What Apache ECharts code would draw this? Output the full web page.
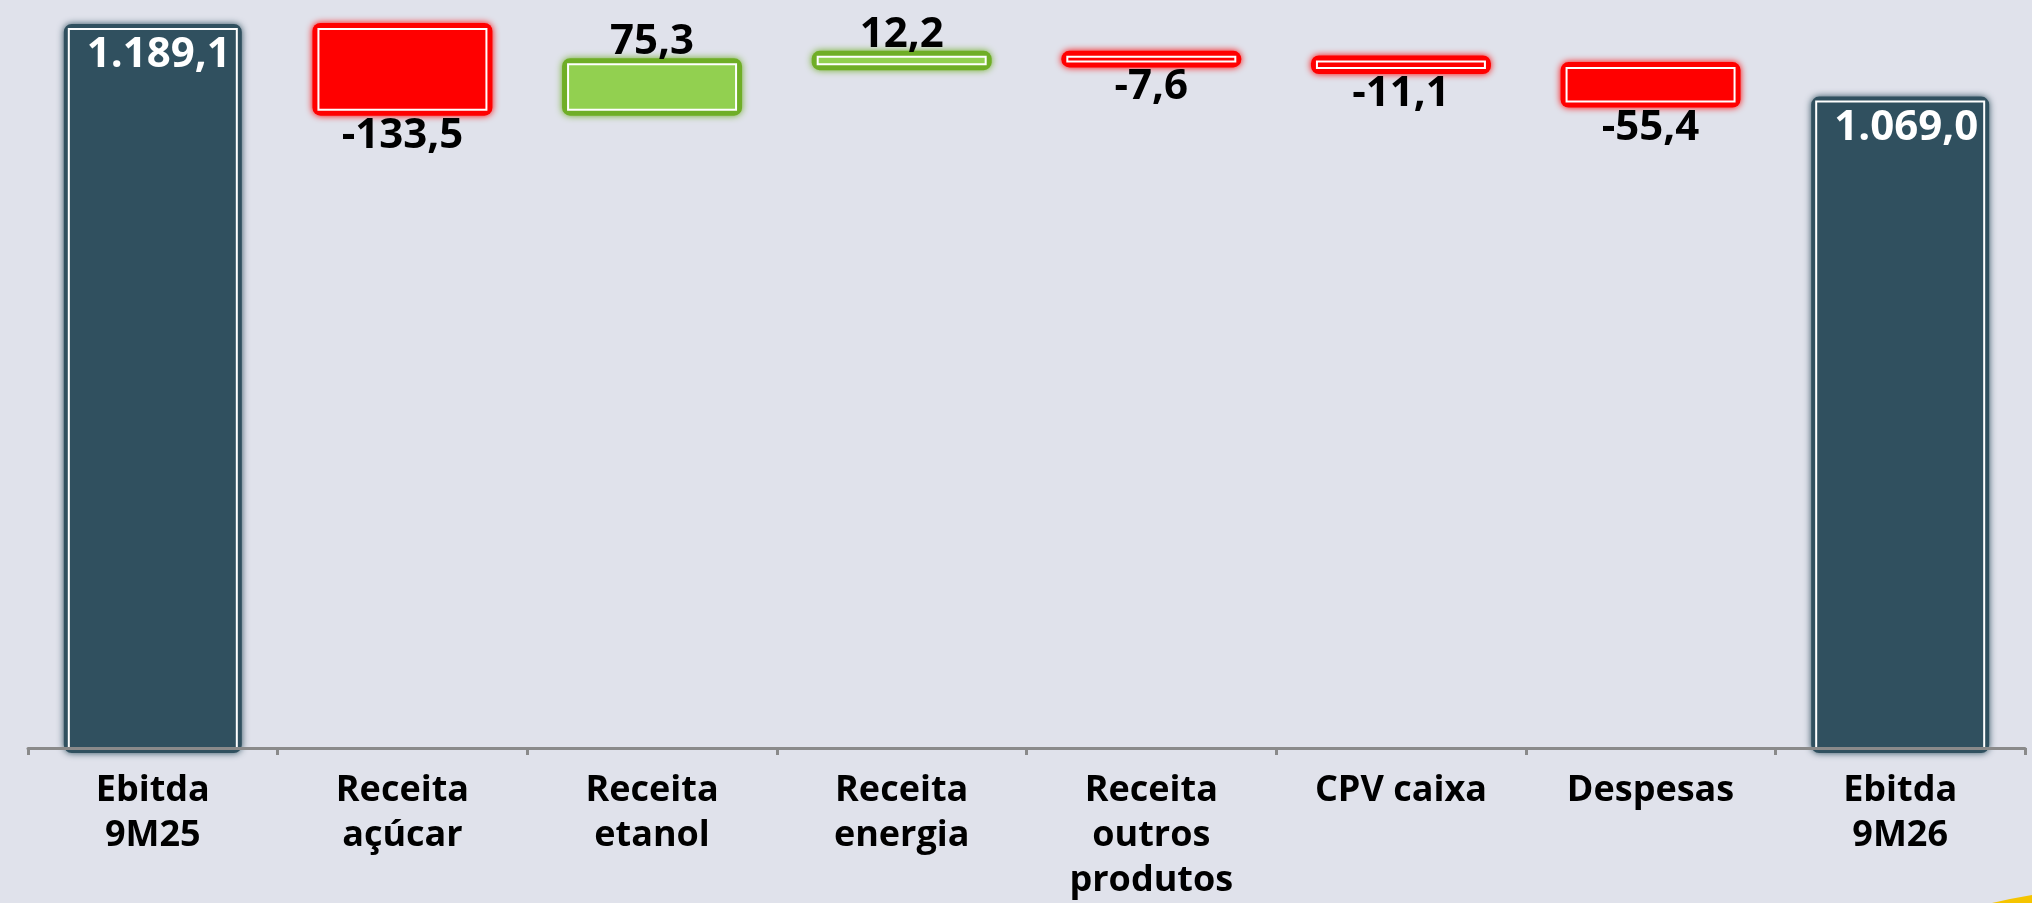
<!DOCTYPE html>
<html>
<head>
<meta charset="utf-8">
<script src="https://cdn.jsdelivr.net/npm/echarts@6/dist/echarts.min.js"></script>
<style>
  html, body { margin: 0; padding: 0; background: #e0e2eb; }
  #chart { width: 2032px; height: 903px; }
</style>
</head>
<body>
<div id="chart"></div>
<script>
const categories = [
  'Ebitda\n9M25',
  'Receita\naçúcar',
  'Receita\netanol',
  'Receita\nenergia',
  'Receita\noutros\nprodutos',
  'CPV caixa',
  'Despesas',
  'Ebitda\n9M26'
];
const values = [1189.1, -133.5, 75.3, 12.2, -7.6, -11.1, -55.4, 1069.0];
const isTotal = [true, false, false, false, false, false, false, true];

const COLORS = {
  total: { fill: '#30505f', glow: '#30505f', text: '#ffffff' },
  up: { fill: '#92d050', glow: '#6fae26', text: '#000000' },
  down: { fill: '#ff0000', glow: '#ff0000', text: '#000000' }
};

function formatBR(v) {
  const neg = v < 0;
  const parts = Math.abs(v).toFixed(1).split('.');
  const intPart = parts[0].replace(/\B(?=(\d{3})+(?!\d))/g, '.');
  return (neg ? '-' : '') + intPart + ',' + parts[1];
}

// waterfall rows: [index, low, high, raw value, kind]
const rows = [];
let running = 0;
values.forEach((v, i) => {
  if (isTotal[i]) {
    rows.push([i, 0, v, v, 'total']);
    running = v;
  } else {
    const next = running + v;
    rows.push([i, Math.min(running, next), Math.max(running, next), v, v >= 0 ? 'up' : 'down']);
    running = next;
  }
});

function renderItem(params, api) {
  const row = rows[params.dataIndex];
  const kind = row[4];
  const c = COLORS[kind];
  const pTop = api.coord([api.value(0), api.value(2)]);
  const pBot = api.coord([api.value(0), api.value(1)]);
  const band = api.size([1, 0])[0];
  const w = band * 0.673;
  const x = pTop[0] - w / 2;
  const y = pTop[1];
  const h = pBot[1] - pTop[1];
  const font = 'bold 42px "Open Sans"';
  const g = kind === 'total' ? 5 : 6;

  let label;
  if (kind === 'total') {
    label = { x: pTop[0] + 6, y: y + 5, align: 'center', verticalAlign: 'top' };
  } else if (kind === 'up') {
    label = { x: pTop[0], y: y - 1, align: 'center', verticalAlign: 'bottom' };
  } else {
    label = { x: pTop[0], y: y + h + 5, align: 'center', verticalAlign: 'top' };
  }

  return {
    type: 'group',
    children: [
      {
        type: 'rect',
        shape: { x: x - g, y: y - g, width: w + 2 * g, height: h + 2 * g, r: 8 },
        style: { fill: c.glow, shadowBlur: 7, shadowColor: c.glow }
      },
      {
        type: 'rect',
        shape: { x: x, y: y, width: w, height: h },
        style: { fill: c.fill, stroke: '#ffffff', lineWidth: 2 }
      },
      {
        type: 'text',
        x: label.x,
        y: label.y,
        style: {
          text: formatBR(row[3]),
          fill: c.text,
          font: font,
          align: label.align,
          verticalAlign: label.verticalAlign
        }
      }
    ]
  };
}

const chart = echarts.init(document.getElementById('chart'));
chart.setOption({
  backgroundColor: '#e0e2eb',
  animation: false,
  grid: {
    left: 28,
    right: 7,
    top: 22.4,
    bottom: 152
  },
  xAxis: {
    type: 'category',
    data: categories,
    z: 10,
    axisLine: {
      lineStyle: { color: '#8a8a8a', width: 3 }
    },
    axisTick: {
      show: true,
      length: 7,
      lineStyle: { color: '#8a8a8a', width: 3 }
    },
    axisLabel: {
      color: '#000000',
      fontFamily: 'Open Sans',
      fontWeight: 'bold',
      fontSize: 36,
      lineHeight: 45,
      margin: 20,
      interval: 0
    }
  },
  yAxis: {
    type: 'value',
    min: 0,
    max: 1200,
    show: false,
    splitLine: { show: false }
  },
  series: [
    {
      name: 'Ebitda',
      type: 'custom',
      renderItem: renderItem,
      encode: { x: 0, y: [1, 2] },
      data: rows.map(r => [r[0], r[1], r[2]])
    }
  ],
  graphic: [
    {
      type: 'polygon',
      silent: true,
      shape: { points: [[1992, 903], [2010, 899], [2032, 895], [2032, 903]] },
      style: { fill: '#f5c400' }
    }
  ]
});
</script>
</body>
</html>
